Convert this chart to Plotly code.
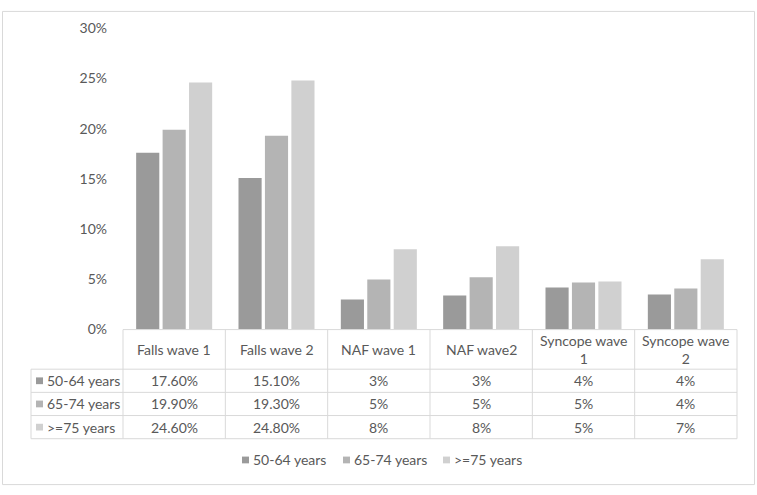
import plotly.graph_objects as go

# data
categories = ["Falls wave 1", "Falls wave 2", "NAF wave 1", "NAF wave2", "Syncope wave 1", "Syncope wave 2"]
header_labels = ["Falls wave 1", "Falls wave 2", "NAF wave 1", "NAF wave2", "Syncope wave<br>1", "Syncope wave<br>2"]
series_names = ["50-64 years", "65-74 years", ">=75 years"]
values_5064 = [0.176, 0.151, 0.030, 0.034, 0.042, 0.035]
values_6574 = [0.199, 0.193, 0.050, 0.052, 0.047, 0.041]
values_75 = [0.246, 0.248, 0.080, 0.083, 0.048, 0.070]
table_5064 = ["17.60%", "15.10%", "3%", "3%", "4%", "4%"]
table_6574 = ["19.90%", "19.30%", "5%", "5%", "5%", "4%"]
table_75 = ["24.60%", "24.80%", "8%", "8%", "5%", "7%"]

colors = ["#9a9a9a", "#b4b4b4", "#d0d0d0"]
W, H = 757, 495
FONT = "Lato"
FS = 14
TXT = "#595959"
LINE = "#d9d9d9"


def px(x):
    return x / W


def py(y):
    return 1 - y / H


# layout in pixels
plot_l, plot_r, plot_t, plot_b = 123, 737, 20, 332
tab_l = 31
row_lines = [373, 397, 421, 445]
legend_x = [242, 343, 443]
legend_y = 467

fig = go.Figure()
for name, vals, col in zip(series_names, [values_5064, values_6574, values_75], colors):
    fig.add_trace(go.Bar(x=categories, y=vals, name=name, marker=dict(color=col, line=dict(width=0)),
                         showlegend=False))

shapes = []
annotations = []

# outer chart border
shapes.append(dict(type="rect", xref="paper", yref="paper", x0=px(2.5), x1=px(754.5), y0=py(492.5), y1=py(2.5),
                   line=dict(color=LINE, width=1)))

# table lines
shapes.append(dict(type="line", xref="paper", yref="paper", x0=px(plot_l), x1=px(plot_r),
                   y0=py(plot_b), y1=py(plot_b), line=dict(color=LINE, width=1)))
for ry in row_lines:
    shapes.append(dict(type="line", xref="paper", yref="paper", x0=px(tab_l), x1=px(plot_r),
                       y0=py(ry), y1=py(ry), line=dict(color=LINE, width=1)))
col_w = (plot_r - plot_l) / len(categories)
for i in range(len(categories) + 1):
    cx = plot_l + i * col_w
    shapes.append(dict(type="line", xref="paper", yref="paper", x0=px(cx), x1=px(cx),
                       y0=py(plot_b), y1=py(row_lines[-1]), line=dict(color=LINE, width=1)))
shapes.append(dict(type="line", xref="paper", yref="paper", x0=px(tab_l), x1=px(tab_l),
                   y0=py(row_lines[0]), y1=py(row_lines[-1]), line=dict(color=LINE, width=1)))

# header texts
for i, lab in enumerate(header_labels):
    cx = plot_l + (i + 0.5) * col_w
    annotations.append(dict(x=px(cx), y=py((plot_b + row_lines[0]) / 2), xref="paper", yref="paper",
                            text=lab, showarrow=False, xanchor="center", yanchor="middle",
                            font=dict(family=FONT, size=FS, color=TXT)))

# table rows
for r, (name, row, col) in enumerate(zip(series_names, [table_5064, table_6574, table_75], colors)):
    cy = (row_lines[r] + row_lines[r + 1]) / 2
    shapes.append(dict(type="rect", xref="paper", yref="paper", x0=px(36), x1=px(43),
                       y0=py(cy + 3.5), y1=py(cy - 3.5), fillcolor=col, line=dict(width=0)))
    annotations.append(dict(x=px(45), y=py(cy), xref="paper", yref="paper", text=name, showarrow=False,
                            xanchor="left", yanchor="middle", font=dict(family=FONT, size=FS, color=TXT)))
    for i, v in enumerate(row):
        cx = plot_l + (i + 0.5) * col_w
        annotations.append(dict(x=px(cx), y=py(cy), xref="paper", yref="paper", text=v, showarrow=False,
                                xanchor="center", yanchor="middle",
                                font=dict(family=FONT, size=FS, color=TXT)))

# legend drawn by hand (small square keys like the original)
for lx, name, col in zip(legend_x, series_names, colors):
    shapes.append(dict(type="rect", xref="paper", yref="paper", x0=px(lx), x1=px(lx + 7),
                       y0=py(legend_y + 3.5), y1=py(legend_y - 3.5), fillcolor=col, line=dict(width=0)))
    annotations.append(dict(x=px(lx + 9), y=py(legend_y), xref="paper", yref="paper", text=name,
                            showarrow=False, xanchor="left", yanchor="middle",
                            font=dict(family=FONT, size=FS, color=TXT)))

fig.update_layout(
    width=W, height=H,
    margin=dict(l=0, r=0, t=0, b=0),
    paper_bgcolor="white", plot_bgcolor="white",
    barmode="group", bargap=0.225, bargroupgap=0.125,
    font=dict(family=FONT, size=FS, color=TXT),
    xaxis=dict(domain=[px(plot_l), px(plot_r)], showticklabels=False, showgrid=False,
               showline=False, zeroline=False, ticks=""),
    yaxis=dict(domain=[py(plot_b), py(plot_t)], range=[0, 0.30], dtick=0.05, tickformat=".0%",
               showgrid=False, zeroline=False, showline=False, ticks="", ticklabelstandoff=15,
               tickfont=dict(family=FONT, size=FS, color=TXT)),
    showlegend=False,
    shapes=shapes,
    annotations=annotations,
)

fig.write_html("out.html", config={"displayModeBar": False},
               post_script="document.body.style.margin='0';document.body.style.overflow='hidden';")
